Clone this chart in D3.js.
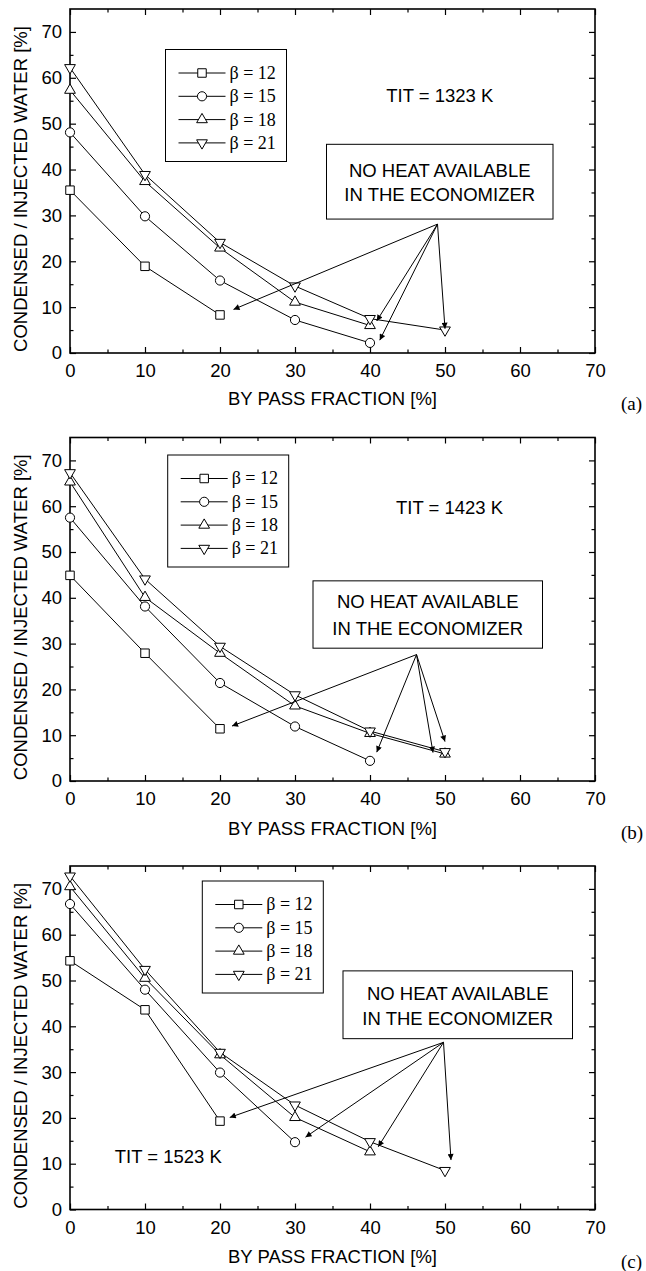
<!DOCTYPE html>
<html>
<head>
<meta charset="utf-8">
<script src="https://cdn.jsdelivr.net/npm/d3@7"></script>
<style>
  html, body { margin: 0; padding: 0; background: #fff; }
  svg { display: block; }
  .sans { font-family: "Liberation Sans", Arial, sans-serif; }
  .serif { font-family: "Liberation Serif", "Times New Roman", serif; }
</style>
</head>
<body>
<svg id="chart" width="646" height="1271"></svg>
<script>
// By-pass fraction (x) and series for each pressure ratio β
const xValues = [0, 10, 20, 30, 40, 50];
const xTicks = [0, 10, 20, 30, 40, 50, 60, 70];
const yTicks = [0, 10, 20, 30, 40, 50, 60, 70];
const betaLabels = ["β = 12", "β = 15", "β = 18", "β = 21"];
const markerTypes = ["square", "circle", "up", "down"];

// (a) TIT = 1323 K
const a12 = [35.5, 18.9, 8.3];
const a15 = [48.1, 29.8, 15.8, 7.2, 2.2];
const a18 = [57.3, 37.4, 22.9, 11.1, 6.0];
const a21 = [62.2, 38.9, 24.1, 14.6, 7.5, 5.0];

// (b) TIT = 1423 K
const b12 = [44.9, 27.9, 11.4];
const b15 = [57.5, 38.1, 21.4, 11.9, 4.4];
const b18 = [65.3, 40.1, 27.9, 16.4, 10.4, 5.9];
const b21 = [67.3, 44.1, 29.4, 18.8, 10.9, 6.4];

// (c) TIT = 1523 K
const c12 = [54.3, 43.6, 19.3];
const c15 = [66.7, 48.0, 29.9, 14.7];
const c18 = [70.5, 50.5, 33.8, 20.1, 12.6];
const c21 = [72.8, 52.4, 34.3, 22.8, 14.8, 8.5];

// Arrow start and end points of the "no heat available" callout (data units)
const arrowFromA = [49.0, 28.1];
const arrowsToA = [[21.8, 9.5], [40.9, 7.0], [41.3, 2.8], [50.0, 5.3]];
const arrowFromB = [46.2, 27.6];
const arrowsToB = [[21.6, 12.0], [40.9, 6.3], [48.4, 6.2], [50.0, 8.6]];
const arrowFromC = [49.8, 36.5];
const arrowsToC = [[21.3, 20.1], [31.4, 15.8], [41.1, 13.7], [50.8, 10.8]];

const panels = [
  { tag: "(a)", tit: "TIT = 1323 K", series: [a12, a15, a18, a21],
    top: 9, bottom: 353, titlePos: [49.3, 56.1],
    box: [34.2, 64.4, 45.5, 29.2], boxLines: [39.8, 34.5],
    legend: [165.5, 40.5], from: arrowFromA, to: arrowsToA, xTitleDy: 46 },
  { tag: "(b)", tit: "TIT = 1423 K", series: [b12, b15, b18, b21],
    top: 437.5, bottom: 781, titlePos: [50.6, 59.8],
    box: [32.4, 63.0, 43.7, 29.0], boxLines: [39.1, 33.3],
    legend: [167.7, 17.5], from: arrowFromB, to: arrowsToB, xTitleDy: 47.5 },
  { tag: "(c)", tit: "TIT = 1523 K", series: [c12, c15, c18, c21],
    top: 866, bottom: 1209.5, titlePos: [13.1, 11.5],
    box: [36.4, 67.0, 52.1, 37.3], boxLines: [47.2, 41.6],
    legend: [202.3, 15], from: arrowFromC, to: arrowsToC, xTitleDy: 47.5 }
];

const svg = d3.select("#chart");
const left = 70, right = 595;

svg.append("defs").append("marker")
  .attr("id", "head")
  .attr("viewBox", "0 0 10 10")
  .attr("refX", 10).attr("refY", 5)
  .attr("markerWidth", 8).attr("markerHeight", 6)
  .attr("markerUnits", "userSpaceOnUse")
  .attr("orient", "auto")
  .append("path").attr("d", "M0,0 L10,5 L0,10 Z").attr("fill", "#000");

function drawMarker(g, type, cx, cy) {
  const s = g.append("path")
    .attr("fill", "#fff").attr("stroke", "#000").attr("stroke-width", 1);
  if (type === "square") {
    s.attr("d", d3.symbol(d3.symbolSquare, 72)());
  } else if (type === "circle") {
    s.attr("d", d3.symbol(d3.symbolCircle, 66)());
  } else {
    s.attr("d", d3.symbol(d3.symbolTriangle, 50)());
  }
  s.attr("transform", `translate(${cx},${cy})` + (type === "down" ? " rotate(180)" : ""));
}

panels.forEach(p => {
  const x = d3.scaleLinear().domain([0, 70]).range([left, right]);
  const y = d3.scaleLinear().domain([0, 75]).range([p.bottom, p.top]);
  const g = svg.append("g");

  // major and minor ticks on all four sides, pointing inward
  const minorX = d3.range(5, 70, 10);
  const minorY = d3.range(5, 75, 10);
  const styleAxis = sel => {
    sel.select(".domain").remove();
    sel.selectAll("line").attr("stroke", "#000").attr("stroke-width", 1.2);
    sel.selectAll("text").attr("class", "sans").attr("font-size", 18.5).attr("fill", "#000");
  };
  g.append("g").attr("transform", `translate(0,${p.bottom})`)
    .call(d3.axisBottom(x).tickValues(xTicks).tickSize(-6).tickPadding(11).tickFormat(d3.format("d")))
    .call(styleAxis).attr("font-family", null);
  g.append("g").attr("transform", `translate(0,${p.bottom})`)
    .call(d3.axisBottom(x).tickValues(minorX).tickSize(-3.5).tickFormat(""))
    .call(styleAxis);
  g.append("g").attr("transform", `translate(0,${p.top})`)
    .call(d3.axisTop(x).tickValues(xTicks).tickSize(-6).tickFormat(""))
    .call(styleAxis);
  g.append("g").attr("transform", `translate(0,${p.top})`)
    .call(d3.axisTop(x).tickValues(minorX).tickSize(-3.5).tickFormat(""))
    .call(styleAxis);
  g.append("g").attr("transform", `translate(${left},0)`)
    .call(d3.axisLeft(y).tickValues(yTicks).tickSize(-6).tickPadding(8).tickFormat(d3.format("d")))
    .call(styleAxis).attr("font-family", null);
  g.append("g").attr("transform", `translate(${left},0)`)
    .call(d3.axisLeft(y).tickValues(minorY).tickSize(-3.5).tickFormat(""))
    .call(styleAxis);
  g.append("g").attr("transform", `translate(${right},0)`)
    .call(d3.axisRight(y).tickValues(yTicks).tickSize(-6).tickFormat(""))
    .call(styleAxis);
  g.append("g").attr("transform", `translate(${right},0)`)
    .call(d3.axisRight(y).tickValues(minorY).tickSize(-3.5).tickFormat(""))
    .call(styleAxis);

  g.append("rect")
    .attr("x", left).attr("y", p.top)
    .attr("width", right - left).attr("height", p.bottom - p.top)
    .attr("fill", "none").attr("stroke", "#000").attr("stroke-width", 1.6);

  // axis titles and panel tag
  g.append("text").attr("class", "sans").attr("font-size", 18.5)
    .attr("x", (left + right) / 2).attr("y", p.bottom + p.xTitleDy)
    .attr("dy", "0.35em").attr("text-anchor", "middle")
    .text("BY PASS FRACTION [%]");
  g.append("text").attr("class", "sans").attr("font-size", 18.5)
    .attr("transform", `translate(21,${(p.top + p.bottom) / 2 + 8}) rotate(-90)`)
    .attr("dy", "0.35em").attr("text-anchor", "middle")
    .text("CONDENSED / INJECTED WATER [%]");
  g.append("text").attr("class", "serif").attr("font-size", 19)
    .attr("x", 621).attr("y", p.bottom + p.xTitleDy + 4)
    .attr("dy", "0.35em")
    .text(p.tag);

  // data lines and markers
  const line = d3.line().x((d, i) => x(xValues[i])).y(d => y(d));
  p.series.forEach((vals, k) => {
    g.append("path").datum(vals)
      .attr("d", line).attr("fill", "none")
      .attr("stroke", "#000").attr("stroke-width", 1);
  });
  p.series.forEach((vals, k) => {
    vals.forEach((v, i) => drawMarker(g, markerTypes[k], x(xValues[i]), y(v)));
  });

  // temperature label
  g.append("text").attr("class", "sans").attr("font-size", 18.5)
    .attr("x", x(p.titlePos[0])).attr("y", y(p.titlePos[1]))
    .attr("dy", "0.35em").attr("text-anchor", "middle")
    .text(p.tit);

  // callout box with arrows
  const [bx0, bx1, by0, by1] = p.box;
  g.append("rect")
    .attr("x", x(bx0)).attr("y", y(by0))
    .attr("width", x(bx1) - x(bx0)).attr("height", y(by1) - y(by0))
    .attr("fill", "#fff").attr("stroke", "#000").attr("stroke-width", 1);
  const cx = (x(bx0) + x(bx1)) / 2;
  ["NO HEAT AVAILABLE", "IN THE ECONOMIZER"].forEach((t, i) => {
    g.append("text").attr("class", "sans").attr("font-size", 18.5)
      .attr("x", cx).attr("y", y(p.boxLines[i]))
      .attr("dy", "0.35em").attr("text-anchor", "middle")
      .text(t);
  });
  p.to.forEach(t => {
    g.append("line")
      .attr("x1", x(p.from[0])).attr("y1", y(p.from[1]))
      .attr("x2", x(t[0])).attr("y2", y(t[1]))
      .attr("stroke", "#000").attr("stroke-width", 1)
      .attr("marker-end", "url(#head)");
  });

  // legend
  const [lx, ly] = p.legend;
  const lg = g.append("g").attr("transform", `translate(${lx},${p.top + ly})`);
  lg.append("rect").attr("width", 121).attr("height", 112)
    .attr("fill", "#fff").attr("stroke", "#000").attr("stroke-width", 1);
  betaLabels.forEach((lab, k) => {
    const ry = 23.5 + k * 23.3;
    lg.append("line").attr("x1", 13).attr("x2", 60).attr("y1", ry).attr("y2", ry)
      .attr("stroke", "#000").attr("stroke-width", 1);
    drawMarker(lg, markerTypes[k], 36.5, ry);
    lg.append("text").attr("class", "serif").attr("font-size", 18)
      .attr("x", 64).attr("y", ry).attr("dy", "0.33em")
      .text(lab);
  });
});
</script>
</body>
</html>
